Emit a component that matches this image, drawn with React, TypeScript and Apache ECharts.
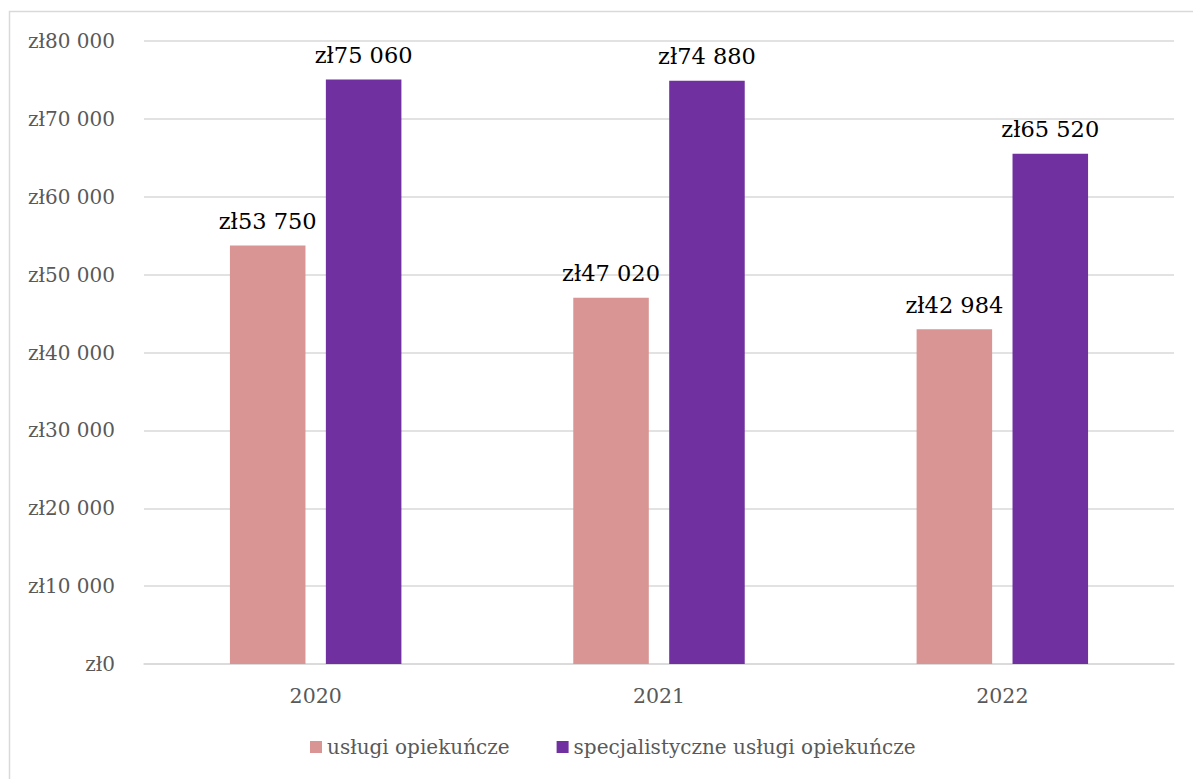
import React, { useEffect, useRef } from "react";
import * as echarts from "echarts";

const categories = ["2020", "2021", "2022"];
const seriesNames = ["usługi opiekuńcze", "specjalistyczne usługi opiekuńcze"];
const careValues = [53750, 47020, 42984];
const specialistValues = [75060, 74880, 65520];
const seriesColors = ["#d99594", "#7030a0"];

const FONT = "DejaVu Serif";

function fmt(v: number): string {
  const s = Math.round(v).toString().replace(/\B(?=(\d{3})+(?!\d))/g, " ");
  return "zł" + s;
}

export default function App() {
  const ref = useRef<HTMLDivElement>(null);
  useEffect(() => {
    document.body.style.margin = "0";
    const chart = echarts.init(ref.current!, undefined, { renderer: "svg" });
    const labelCfg = {
      show: true,
      position: "top" as const,
      distance: 13,
      color: "#000000",
      fontFamily: FONT,
      fontSize: 22.5,
      formatter: (p: any) => fmt(p.value),
    };
    chart.setOption({
      animation: false,
      backgroundColor: "#ffffff",
      textStyle: { fontFamily: FONT },
      graphic: [
        {
          type: "rect",
          shape: { x: 9.5, y: 11.5, width: 1250, height: 900 },
          style: { fill: "none", stroke: "#d9d9d9", lineWidth: 1.5 },
          silent: true,
          z: -10,
        },
      ],
      grid: { left: 144, right: 19, top: 41, bottom: 115 },
      legend: {
        data: seriesNames,
        left: 305,
        top: 732,
        icon: "rect",
        itemWidth: 12,
        itemHeight: 12,
        itemGap: 47,
        textStyle: { color: "#595959", fontFamily: FONT, fontSize: 20 },
      },
      xAxis: {
        type: "category",
        data: categories,
        axisLine: { show: true, lineStyle: { color: "#d9d9d9", width: 1.5 } },
        axisTick: { show: false },
        axisLabel: { color: "#595959", fontFamily: FONT, fontSize: 20.5, margin: 21 },
      },
      yAxis: {
        type: "value",
        min: 0,
        max: 80000,
        interval: 10000,
        axisLine: { show: false },
        axisTick: { show: false },
        splitLine: { lineStyle: { color: "#d9d9d9", width: 1.5 } },
        axisLabel: {
          color: "#595959",
          fontFamily: FONT,
          fontSize: 20,
          margin: 29,
          formatter: (v: number) => fmt(v),
        },
      },
      series: [
        {
          name: seriesNames[0],
          type: "bar",
          data: careValues,
          itemStyle: { color: seriesColors[0] },
          barWidth: "22%",
          barGap: "27%",
          label: labelCfg,
        },
        {
          name: seriesNames[1],
          type: "bar",
          data: specialistValues,
          itemStyle: { color: seriesColors[1] },
          barWidth: "22%",
          barGap: "27%",
          label: labelCfg,
        },
      ],
    });
    return () => chart.dispose();
  }, []);
  return <div ref={ref} style={{ width: 1193, height: 779 }} />;
}
